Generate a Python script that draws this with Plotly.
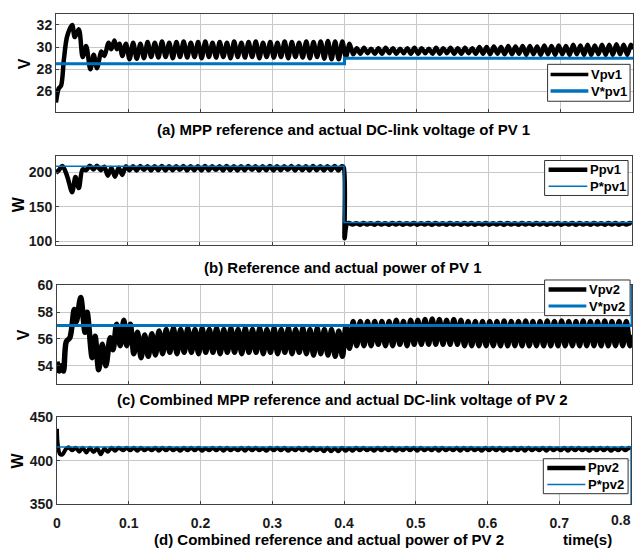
import numpy as np
import plotly.graph_objects as go

# ---------------- data ----------------
# sample instants of ripple extrema (100 Hz ripple -> an extremum every 5 ms)
T_RIPPLE = [round(0.097 + 0.005 * k, 4) for k in range(141)]
T_END = 0.8

# (a) PV1 DC-link voltage
VPV1_T_TR = [0.000, 0.004, 0.007, 0.011, 0.0156, 0.0225, 0.026, 0.0317, 0.037, 0.0418,
             0.0477, 0.0523, 0.0569, 0.063, 0.067, 0.073, 0.0767, 0.081, 0.0844, 0.088, 0.092]
VPV1_V_TR = [25.0, 26.3, 26.5, 28.9, 31.0, 32.0, 30.9, 31.6, 29.1, 30.1,
             28.0, 29.3, 28.1, 29.6, 29.2, 30.4, 29.8, 30.6, 29.8, 30.3, 29.2]
VPV1_RIPPLE = [
    30.3, 28.9, 30.4, 28.95, 30.3, 29.0, 30.45, 29.1, 30.4, 29.05,
    30.5, 29.1, 30.4, 29.0, 30.45, 29.1, 30.5, 29.05, 30.4, 29.1,
    30.45, 29.0, 30.5, 29.1, 30.4, 29.05, 30.45, 29.1, 30.4, 29.0,
    30.5, 29.1, 30.4, 29.05, 30.45, 29.1, 30.5, 29.0, 30.4, 29.1,
    30.45, 29.05, 30.4, 29.1, 30.5, 29.0, 30.45, 29.1, 30.4, 29.05,
    30.5, 29.0, 30.45, 29.1, 30.5, 28.95, 30.55, 28.9, 30.5, 28.9,
    30.5, 29.1, 30.3, 29.35,
    29.9, 29.4, 29.95, 29.45, 29.85, 29.4, 29.9, 29.4, 29.95, 29.45,
    29.9, 29.4, 29.85, 29.45, 29.9, 29.4, 29.95, 29.4, 29.9, 29.45,
    29.85, 29.4, 29.95, 29.4, 29.9, 29.45, 29.95, 29.4, 29.9, 29.4,
    29.95, 29.45, 29.9, 29.4, 30.0, 29.4,
    30.0, 29.35, 30.05, 29.4, 30.0, 29.35, 30.1, 29.35, 30.05, 29.4,
    30.1, 29.3, 30.1, 29.35, 30.05, 29.3, 30.15, 29.35, 30.1, 29.3,
    30.15, 29.35, 30.1, 29.3, 30.2, 29.35, 30.15, 29.3, 30.2, 29.3,
    30.15, 29.35, 30.2, 29.3, 30.2, 29.3, 30.25, 29.35, 30.2, 29.3,
    30.2]
VPV1_V_END = 29.8
VREF1_T = [0.0, 0.4, 0.4, 0.8]
VREF1_V = [28.5, 28.5, 29.0, 29.0]

# (b) PV1 power
PPV1_T_TR = [0.000, 0.004, 0.009, 0.0156, 0.0225, 0.027, 0.0317, 0.037, 0.042, 0.047,
             0.052, 0.057, 0.062, 0.067, 0.072, 0.077, 0.082, 0.087, 0.092]
PPV1_V_TR = [199, 203, 209, 194, 171, 193, 177, 204, 203, 209.5,
             204, 209.5, 203, 208, 195, 206, 193.5, 206.5, 196]
PPV1_RIPPLE_PRE = [
    208.5, 203, 208.5, 202.5, 209, 203.5, 208.5, 202.5, 208.5, 203,
    209, 202.5, 208.5, 203, 208.5, 203.5, 209, 202.5, 208.5, 203,
    208.5, 202.5, 209, 203, 208.5, 203.5, 208.5, 202.5, 209, 203,
    208.5, 202.5, 208.5, 203, 209, 203.5, 208.5, 202.5, 208.5, 203,
    209, 202.5, 208.5, 203, 208.5, 203.5, 209, 202.5, 208.5, 203,
    208.5, 202.5, 209, 203, 208.5, 202.5, 208.5, 203, 209, 202.5,
    208.5]
PPV1_T_STEP = [0.3995, 0.4008, 0.4025, 0.4045]
PPV1_V_STEP = [207, 104, 119, 126]
PPV1_RIPPLE_POST = [
    126.3, 124.0, 126.0, 123.8, 126.3, 124.2, 126.0, 123.8, 126.3, 124.0,
    126.0, 123.8, 126.3, 124.0, 126.2, 123.8, 126.0, 124.0, 126.3, 123.8,
    126.0, 124.0, 126.3, 123.8, 126.2, 124.0, 126.0, 123.8, 126.3, 124.0,
    126.0, 123.8, 126.3, 124.0, 126.2, 123.8, 126.0, 124.0, 126.3, 123.8,
    126.0, 124.0, 126.3, 123.8, 126.2, 124.0, 126.0, 123.8, 126.3, 124.0,
    126.0, 123.8, 126.3, 124.0, 126.2, 123.8, 126.0, 124.0, 126.3, 123.8,
    126.0, 124.0, 126.3, 123.8, 126.2, 124.0, 126.0, 123.8, 126.3, 124.0,
    126.0, 123.8, 126.3, 124.0, 126.2, 123.8, 126.0, 124.0, 126.3]
PPV1_V_END = 125.0
PREF1_T = [0.0, 0.4, 0.4, 0.8]
PREF1_V = [208.5, 208.5, 127.0, 127.0]

# (c) PV2 DC-link voltage
VPV2_T_TR = [0.000, 0.003, 0.006, 0.009, 0.013, 0.018, 0.024, 0.027, 0.033, 0.039,
             0.042, 0.049, 0.053, 0.058, 0.063, 0.068, 0.074, 0.078, 0.083, 0.088, 0.093]
VPV2_V_TR = [54.3, 53.6, 54.0, 53.6, 55.8, 56.1, 58.2, 57.3, 59.1, 56.5,
             58.0, 54.6, 56.2, 53.7, 55.6, 54.0, 56.1, 55.2, 57.1, 55.5, 57.4]
VPV2_RIPPLE = [
    55.5, 57.1, 54.9, 56.5, 54.6, 56.3, 54.7, 56.4, 54.8, 56.6,
    54.9, 56.7, 55.0, 56.8, 54.9, 56.7, 55.0, 56.8, 55.0, 56.7,
    54.9, 56.8, 55.0, 56.7, 55.0, 56.8, 54.9, 56.7, 55.0, 56.8,
    55.0, 56.7, 54.9, 56.8, 55.0, 56.7, 55.0, 56.8, 54.9, 56.7,
    55.0, 56.8, 54.9, 56.7, 55.0, 56.8, 54.9, 56.7, 55.0, 56.8,
    54.9, 56.7, 54.8, 56.8, 54.9, 56.7, 54.8, 56.7, 54.7, 56.6,
    54.7, 56.9, 55.3, 57.3, 55.5, 57.3, 55.5, 57.3, 55.5, 57.3,
    55.6, 57.3, 55.5, 57.3, 55.5, 57.4, 55.6, 57.3, 55.5, 57.4,
    55.6, 57.4, 55.6, 57.45, 55.6, 57.5, 55.6, 57.45, 55.6, 57.4,
    55.6, 57.45, 55.6, 57.4, 55.5, 57.3, 55.5, 57.3, 55.5, 57.3,
    55.5, 57.3, 55.5, 57.3, 55.5, 57.35, 55.5, 57.3, 55.5, 57.3,
    55.5, 57.35, 55.5, 57.3, 55.5, 57.3, 55.5, 57.35, 55.5, 57.3,
    55.5, 57.35, 55.5, 57.3, 55.5, 57.3, 55.5, 57.35, 55.5, 57.3,
    55.5, 57.3, 55.5, 57.35, 55.5, 57.3, 55.5, 57.3, 55.5, 57.3,
    55.5]
VPV2_V_END = 56.3
VREF2_T = [0.0, 0.8, 0.8]
VREF2_V = [57.0, 57.0, 60.5]

# (d) PV2 power
PPV2_T_TR = [0.000, 0.001, 0.004, 0.0075, 0.012, 0.016, 0.021, 0.026, 0.031, 0.036,
             0.041, 0.046, 0.051, 0.056, 0.061, 0.066, 0.071, 0.076, 0.081, 0.086, 0.092]
PPV2_V_TR = [437, 420, 408, 407, 413, 415.5, 412, 415, 410.5, 415,
             409.5, 415, 410, 414.5, 407.5, 414, 410.5, 415, 411.5, 415, 412]
PPV2_RIPPLE = [
    415, 412, 415, 411.5, 415, 412, 414.5, 412, 415, 411.5,
    415, 412, 415, 412, 414.5, 411.5, 415, 412, 415, 412,
    415, 411.5, 414.5, 412, 415, 412, 415, 411.5, 415, 412,
    414.5, 412, 415, 411.5, 415, 412, 415, 412, 414.5, 411.5,
    415, 412, 415, 412, 415, 411.5, 414.5, 412, 415, 412,
    415, 411.5, 415, 412, 414.5, 411, 415, 411, 414.5, 411,
    415, 411.5, 414.5, 411.5, 415, 412, 415, 412, 414.5, 411.5,
    415, 412, 415, 412, 415, 411.5, 414.5, 412, 415, 412,
    415, 411.5, 415, 412, 414.5, 412, 415, 411.5, 415, 412,
    414.5, 412, 415, 411.5, 415, 412, 415, 412, 414.5, 411.5,
    415, 412, 415, 412, 415, 411.5, 414.5, 412, 415, 412,
    415, 411.5, 415, 412, 414.5, 412, 415, 411.5, 415, 412,
    414.5, 412, 415, 411.5, 415, 412, 415, 412, 414.5, 411.5,
    415, 412, 415, 412, 415, 411.5, 414.5, 412, 415, 412,
    415]
PPV2_V_END = 413.5
PREF2_T = [0.0, 0.8, 0.8]
PREF2_V = [416.0, 416.0, 350.0]

X_TICKS = [0, 0.1, 0.2, 0.3, 0.4, 0.5, 0.6, 0.7, 0.8]
X_TICK_TEXT = ['0', '0.1', '0.2', '0.3', '0.4', '0.5', '0.6', '0.7', '0.8']

# ---------------- assemble series ----------------
def ripple_times(vals, start=0):
    return T_RIPPLE[start:start + len(vals)]

vpv1_t = VPV1_T_TR + ripple_times(VPV1_RIPPLE) + [T_END]
vpv1_v = VPV1_V_TR + VPV1_RIPPLE + [VPV1_V_END]

ppv1_t = (PPV1_T_TR + ripple_times(PPV1_RIPPLE_PRE) + PPV1_T_STEP
          + ripple_times(PPV1_RIPPLE_POST, 62) + [T_END])
ppv1_v = (PPV1_V_TR + PPV1_RIPPLE_PRE + PPV1_V_STEP + PPV1_RIPPLE_POST + [PPV1_V_END])

vpv2_t = VPV2_T_TR + ripple_times(VPV2_RIPPLE) + [T_END]
vpv2_v = VPV2_V_TR + VPV2_RIPPLE + [VPV2_V_END]

ppv2_t = PPV2_T_TR + ripple_times(PPV2_RIPPLE) + [T_END]
ppv2_v = PPV2_V_TR + PPV2_RIPPLE + [PPV2_V_END]

# ---------------- figure ----------------
W, H = 641, 559
BLACK = '#000000'
BLUE = '#0072BD'
FONT = 'Liberation Sans'
AX_COLOR = '#404040'
GRID = '#c8c8c8'
TICK_FONT = dict(size=14, family=FONT, color='#1a1a1a', weight='bold')
LEG_FONT_SIZE = 13
LEG_ROW = LEG_FONT_SIZE * 1.3  # plotly line spacing of a multi-line annotation

def px(x):
    return x / W

def py(y):
    return 1 - y / H

panels = [
    dict(left=52.3, right=633, top=6, bottom=107, yrange=[24.15, 33], yticks=[26, 28, 30, 32],
         ylabel='V', ylab_x=20, ylab_y=57),
    dict(left=52.3, right=632, top=152.3, bottom=244, yrange=[94.3, 223.6], yticks=[100, 150, 200],
         ylabel='W', ylab_x=14, ylab_y=202),
    dict(left=53.3, right=632, top=285, bottom=386.7, yrange=[52.66, 60.05], yticks=[54, 56, 58, 60],
         ylabel='V', ylab_x=20, ylab_y=336),
    dict(left=53.3, right=631, top=421.5, bottom=510.7, yrange=[350, 450], yticks=[350, 400, 450],
         ylabel='W', ylab_x=14, ylab_y=466),
]

series = [
    (vpv1_t, vpv1_v, 'Vpv1', 4.5, VREF1_T, VREF1_V, 'V*pv1', 3.0),
    (ppv1_t, ppv1_v, 'Ppv1', 4.5, PREF1_T, PREF1_V, 'P*pv1', 1.5),
    (vpv2_t, vpv2_v, 'Vpv2', 5.5, VREF2_T, VREF2_V, 'V*pv2', 3.0),
    (ppv2_t, ppv2_v, 'Ppv2', 4.0, PREF2_T, PREF2_V, 'P*pv2', 1.5),
]

# legend boxes (pixels): box edges, sample line span, text x, sample widths
legend_boxes = [
    dict(l=547, r=630, t=58, b=96, lx=(550, 588), tx=590, w=(3.5, 3.5)),
    dict(l=544, r=628, t=157, b=193, lx=(548, 587), tx=589, w=(4.5, 1.5)),
    dict(l=544, r=630, t=280, b=316.7, lx=(548, 586), tx=588, w=(4.5, 3.0)),
    dict(l=542.7, r=628, t=464, b=500, lx=(546.7, 585), tx=587, w=(4.5, 1.5)),
]

fig = go.Figure()
layout = dict(
    width=W, height=H,
    margin=dict(l=0, r=0, t=0, b=0),
    paper_bgcolor='white', plot_bgcolor='white',
    font=dict(family=FONT, size=13, color='black', weight='bold'),
    showlegend=False,
    annotations=[],
    shapes=[],
)

for i, (p, s, lb) in enumerate(zip(panels, series, legend_boxes)):
    n = '' if i == 0 else str(i + 1)
    xa, ya = 'x' + n, 'y' + n
    t_act, v_act, name_act, w_act, t_ref, v_ref, name_ref, w_ref = s
    fig.add_trace(go.Scatter(x=t_act, y=v_act, mode='lines', name=name_act,
                             line=dict(color=BLACK, width=w_act, shape='spline', smoothing=0.9),
                             xaxis=xa, yaxis=ya))
    fig.add_trace(go.Scatter(x=t_ref, y=v_ref, mode='lines', name=name_ref,
                             line=dict(color=BLUE, width=w_ref),
                             xaxis=xa, yaxis=ya))
    last = (i == 3)
    xax = dict(
        domain=[px(p['left']), px(p['right'])], anchor=ya, range=[0, 0.8],
        tickvals=X_TICKS[:-1] if last else X_TICKS,
        showticklabels=last,
        tickfont=TICK_FONT,
        showgrid=True, gridcolor=GRID, gridwidth=1,
        showline=True, linecolor=AX_COLOR, linewidth=1, mirror=True,
        ticks='inside', ticklen=3, tickcolor=AX_COLOR,
        zeroline=False, fixedrange=True,
    )
    if last:
        xax['ticktext'] = X_TICK_TEXT[:-1]
        xax['ticklabelstandoff'] = 6
    layout['xaxis' + n] = xax
    layout['yaxis' + n] = dict(
        domain=[py(p['bottom']), py(p['top'])], anchor=xa, range=p['yrange'],
        tickvals=p['yticks'],
        tickfont=TICK_FONT,
        showgrid=True, gridcolor=GRID, gridwidth=1,
        showline=True, linecolor=AX_COLOR, linewidth=1, mirror=True,
        ticks='inside', ticklen=3, tickcolor=AX_COLOR,
        zeroline=False, fixedrange=True,
    )
    layout['annotations'].append(dict(
        text=p['ylabel'], x=px(p['ylab_x']), y=py(p['ylab_y']), xref='paper', yref='paper',
        showarrow=False, textangle=-90, xanchor='center', yanchor='middle',
        font=dict(size=16, family=FONT, color='black', weight='bold')))

    # legend box drawn in the panel's corner
    layout['shapes'].append(dict(
        type='rect', xref='paper', yref='paper',
        x0=px(lb['l']), x1=px(lb['r']), y0=py(lb['b']), y1=py(lb['t']),
        fillcolor='white', line=dict(color='#333333', width=1), layer='above'))
    mid = (lb['t'] + lb['b']) / 2
    rows = (mid - LEG_ROW / 2, mid + LEG_ROW / 2)
    for row_y, col, lw in zip(rows, (BLACK, BLUE), lb['w']):
        layout['shapes'].append(dict(
            type='line', xref='paper', yref='paper',
            x0=px(lb['lx'][0]), x1=px(lb['lx'][1]), y0=py(row_y), y1=py(row_y),
            line=dict(color=col, width=lw), layer='above'))
    layout['annotations'].append(dict(
        text=name_act + '<br>' + name_ref, x=px(lb['tx']), y=py(mid), xref='paper', yref='paper',
        showarrow=False, xanchor='left', yanchor='middle', align='left', borderpad=0,
        font=dict(size=LEG_FONT_SIZE, family=FONT, color='black', weight='bold')))

captions = [
    ('(a) MPP reference and actual DC-link voltage of PV 1', 342, 125),
    ('(b) Reference and actual power of PV 1', 341, 267),
    ('(c) Combined MPP reference and actual DC-link voltage of PV 2', 341, 403),
    ('(d) Combined reference and actual power of PV 2', 327, 547),
    ('time(s)', 587.5, 547),
]
for txt, cx, cy in captions:
    layout['annotations'].append(dict(
        text=txt, x=px(cx), y=py(cy), xref='paper', yref='paper', showarrow=False,
        xanchor='center', yanchor='middle',
        font=dict(size=15, family=FONT, color='black', weight='bold')))

# last x tick label, placed like in the reference (shifted inward)
layout['annotations'].append(dict(
    text=X_TICK_TEXT[-1], x=px(621), y=py(527), xref='paper', yref='paper',
    showarrow=False, xanchor='center', yanchor='middle', font=TICK_FONT))

fig.update_layout(**layout)
fig.write_html('out.html')
